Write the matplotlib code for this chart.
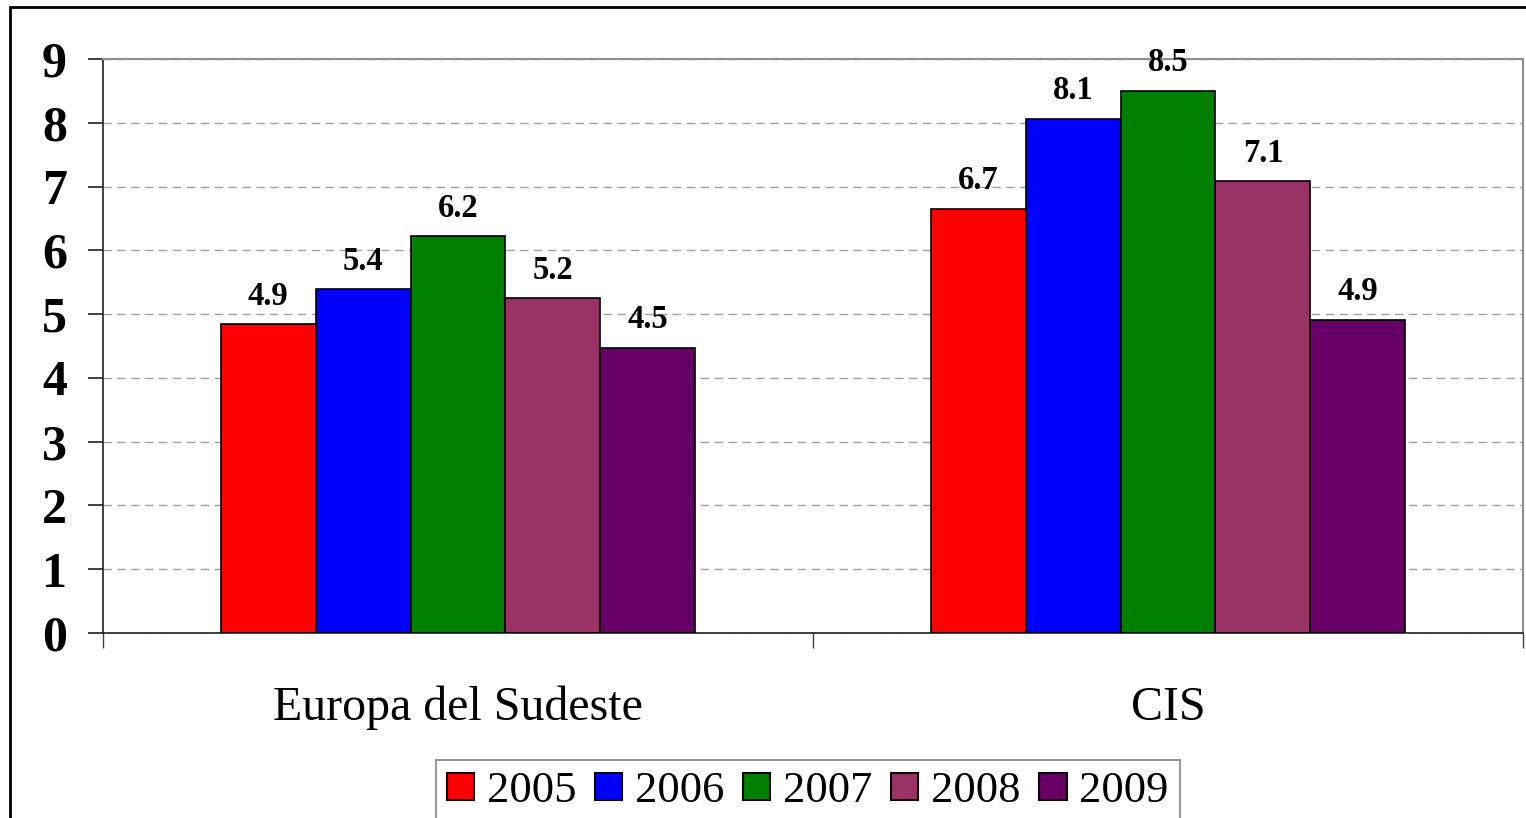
import matplotlib
matplotlib.use("Agg")
import matplotlib.pyplot as plt
from matplotlib.patches import Rectangle
import numpy as np

categories = ["Europa del Sudeste", "CIS"]
years = ["2005", "2006", "2007", "2008", "2009"]
values = {
    "2005": [4.84, 6.65],
    "2006": [5.39, 8.06],
    "2007": [6.22, 8.50],
    "2008": [5.25, 7.08],
    "2009": [4.47, 4.91],
}
labels = {
    "2005": ["4.9", "6.7"],
    "2006": ["5.4", "8.1"],
    "2007": ["6.2", "8.5"],
    "2008": ["5.2", "7.1"],
    "2009": ["4.5", "4.9"],
}
colors = ["#FF0000", "#0000FF", "#008000", "#993366", "#660066"]
yticks = list(range(0, 10))

serif = ["Liberation Serif", "DejaVu Serif"]
plt.rcParams["font.family"] = serif

fig = plt.figure(figsize=(15.26, 8.18), dpi=100)
fig.patch.set_facecolor("white")
ax = fig.add_axes([103/1526, 1 - 633/818, 1420/1526, 574/818])

x = np.arange(len(categories))
w = 0.1338
for i, yr in enumerate(years):
    pos = x + (i - 2) * w
    bars = ax.bar(pos, values[yr], width=w, color=colors[i], edgecolor="black",
                  linewidth=1.2, label=yr, zorder=3)
    for b, lab in zip(bars, labels[yr]):
        ax.annotate(lab, (b.get_x() + b.get_width() / 2, b.get_height()),
                    xytext=(0, 9), textcoords="offset points", ha="center",
                    va="bottom", fontsize=23.5, fontweight="bold", family=serif)

ax.set_xlim(-0.5, 1.5)
ax.set_ylim(0, 9)
ax.set_yticks(yticks)
ax.set_yticklabels([str(t) for t in yticks], fontsize=36, fontweight="bold")
ax.tick_params(axis="y", length=11, width=1.2, pad=15, color="#202020")

ax.set_xticks(x)
ax.set_xticklabels(categories, fontsize=34.5)
ax.set_xticks([-0.5, 0.5, 1.5], minor=True)
ax.tick_params(axis="x", which="major", length=0, pad=38)
ax.tick_params(axis="x", which="minor", length=11, width=1.0, color="#404040")

ax.yaxis.grid(True, linestyle=(0, (6, 4)), color="#A0A0A0", linewidth=1.0, zorder=0)
ax.set_axisbelow(True)

ax.spines["left"].set_color("#202020")
ax.spines["left"].set_linewidth(1.2)
ax.spines["bottom"].set_color("#202020")
ax.spines["bottom"].set_linewidth(1.2)
ax.spines["top"].set_color("#909090")
ax.spines["top"].set_linewidth(1.5)
ax.spines["right"].set_color("#909090")
ax.spines["right"].set_linewidth(1.5)

leg = ax.legend(loc="upper center", bbox_to_anchor=(808/1526, 1 - 760/818),
                bbox_transform=fig.transFigure, ncol=5, fontsize=32,
                frameon=True, fancybox=False, edgecolor="#808080",
                handlelength=0.61, handleheight=0.54, handletextpad=0.29,
                columnspacing=0.42, borderpad=0.25, borderaxespad=0)
leg.get_frame().set_linewidth(1.5)
for h in leg.legend_handles:
    h.set_linewidth(1.5)

border = Rectangle((10/1526, -0.05), 1.1, 1 - 7/818 + 0.05, transform=fig.transFigure,
                   fill=False, edgecolor="black", linewidth=2)
fig.patches.append(border)

fig.savefig("out.png", dpi=100, facecolor="white")
